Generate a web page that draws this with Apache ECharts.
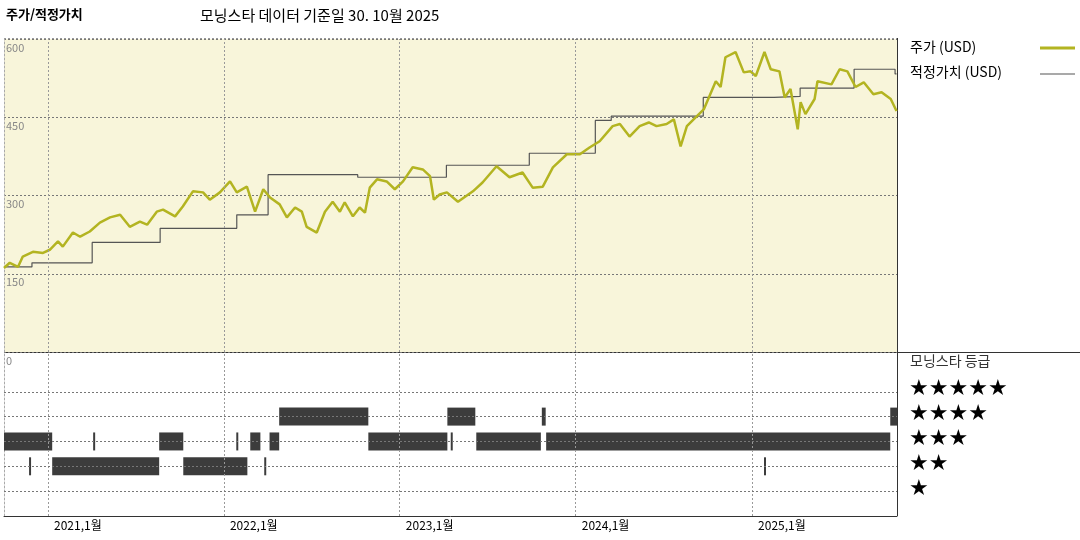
<!DOCTYPE html>
<html><head><meta charset="utf-8">
<script src="https://cdn.jsdelivr.net/npm/echarts@6/dist/echarts.min.js"></script>
<style>html,body{margin:0;padding:0;background:#fff}#c{width:1080px;height:540px}</style>
</head><body><div id="c"></div>
<script>
const priceDates = ['2020-10-02','2020-10-14','2020-10-31','2020-11-10','2020-12-01','2020-12-22','2021-01-05','2021-01-22','2021-02-01','2021-02-22','2021-03-09','2021-03-29','2021-04-19','2021-05-10','2021-05-31','2021-06-20','2021-07-11','2021-07-26','2021-08-15','2021-08-28','2021-09-22','2021-10-08','2021-10-29','2021-11-19','2021-12-03','2021-12-24','2022-01-14','2022-01-28','2022-02-18','2022-03-07','2022-03-24','2022-04-07','2022-04-27','2022-05-12','2022-05-29','2022-06-12','2022-06-22','2022-07-13','2022-07-30','2022-08-15','2022-08-30','2022-09-09','2022-09-26','2022-10-10','2022-10-21','2022-10-31','2022-11-15','2022-12-05','2022-12-22','2023-01-08','2023-01-28','2023-02-18','2023-03-05','2023-03-13','2023-03-25','2023-04-09','2023-05-02','2023-06-02','2023-06-22','2023-07-21','2023-08-17','2023-09-13','2023-10-04','2023-10-25','2023-11-15','2023-12-14','2024-01-10','2024-01-30','2024-02-20','2024-03-18','2024-04-02','2024-04-22','2024-05-13','2024-06-01','2024-06-17','2024-07-08','2024-07-23','2024-08-06','2024-08-19','2024-09-02','2024-09-23','2024-10-18','2024-10-28','2024-11-07','2024-11-28','2024-12-15','2024-12-29','2025-01-09','2025-01-27','2025-02-09','2025-02-27','2025-03-10','2025-03-22','2025-04-06','2025-04-12','2025-04-22','2025-05-11','2025-05-17','2025-06-15','2025-07-02','2025-07-18','2025-08-04','2025-08-21','2025-09-10','2025-09-27','2025-10-16','2025-10-28'];
const priceValues = [161,171,163,183,192,190,196,212,202,229,221,231,248,258,263,240,250,244,269,273,260,279,308,306,292,306,327,306,317,269,312,296,283,258,277,269,240,229,269,288,269,287,260,277,267,315,331,327,312,327,354,350,337,292,302,306,288,308,325,356,335,344,315,317,354,379,379,392,404,433,437,413,433,440,433,437,446,394,433,446,465,519,508,565,575,536,538,529,575,542,538,488,504,427,479,456,485,519,513,542,538,508,517,494,498,485,462];
const fairDates = ['2020-10-02','2020-11-29','2021-04-03','2021-08-22','2022-01-28','2022-04-03','2022-10-06','2023-04-08','2023-09-27','2024-02-11','2024-03-15','2024-09-22','2025-02-16','2025-04-11','2025-08-01','2025-10-25','2025-10-28'];
const fairValues = [163,171,210,237,263,340,335,358,381,444,452,488,490,506,542,533,533];
const ratingStarts = ['2020-10-02','2021-04-05','2021-08-20','2022-01-27','2022-02-25','2022-04-06','2022-10-28','2023-04-17','2023-06-09','2023-11-01','2020-11-23','2021-01-10','2021-10-09','2022-03-26','2025-01-26','2022-04-26','2023-04-10','2023-10-23','2025-10-15'];
const ratingEnds   = ['2021-01-10','2021-04-09','2021-10-09','2022-01-31','2022-03-18','2022-04-26','2023-04-10','2023-04-21','2023-10-21','2025-10-15','2020-11-27','2021-08-20','2022-02-19','2022-03-30','2025-01-30','2022-10-28','2023-06-07','2023-10-31','2025-10-29'];
const ratingLevels = [3,3,3,3,3,3,3,3,3,3,2,2,2,2,2,4,4,4,4];
const yearTicks = ['2021-01-01','2022-01-01','2023-01-01','2024-01-01','2025-01-01'];
const yearLabels = ['2021,1월','2022,1월','2023,1월','2024,1월','2025,1월'];
const startTick = '2020-10-02';
const startLabel = '2020,10월';
const priceTicks = [0,150,300,450,600];
const starLabels = ['★★★★★','★★★★','★★★','★★','★'];

const FONT = '"Noto Sans CJK KR", sans-serif';
const X0 = '2020-10-02', X1 = '2025-10-29';
const chart = echarts.init(document.getElementById('c'));
const lbl = (text, w) => ({show: true, position: 'start', distance: 3, color: '#000', fontFamily: FONT, fontSize: 12, formatter: text, offset: [w, 0]});
const ratingData = ratingStarts.map((s, i) => [s, ratingEnds[i], ratingLevels[i]]);

chart.setOption({
  animation: false,
  backgroundColor: '#fff',
  textStyle: {fontFamily: FONT},
  grid: [
    {left: 4, width: 893, top: 39, height: 313, show: true, backgroundColor: '#f8f5da', borderWidth: 0},
    {left: 4, width: 893, top: 352, height: 164, show: false}
  ],
  xAxis: [
    {type: 'time', gridIndex: 0, min: X0, max: X1, axisLabel: {show: false}, axisTick: {show: false}, axisLine: {show: false}, splitLine: {show: false}},
    {type: 'time', gridIndex: 1, min: X0, max: X1, axisLabel: {show: false}, axisTick: {show: false}, axisLine: {show: true, lineStyle: {color: '#333'}}, splitLine: {show: false}}
  ],
  yAxis: [
    {type: 'value', gridIndex: 0, min: 0, max: 600, interval: 150,
     axisLine: {show: true, lineStyle: {color: '#aaa', type: [2,2]}}, axisTick: {show: false},
     axisLabel: {inside: true, verticalAlign: 'top', color: '#888', fontSize: 11, margin: 2, padding: [3,0,0,0], showMaxLabel: true,
       formatter: v => priceTicks.includes(v) ? String(v) : ''},
     splitLine: {show: true, lineStyle: {color: '#777', type: [2,2]}}},
    {type: 'value', gridIndex: 1, min: 0, max: 6.6, axisLabel: {show: false}, axisTick: {show: false},
     axisLine: {show: true, lineStyle: {color: '#aaa', type: [2,2]}}, splitLine: {show: false}}
  ],
  series: [
    {type: 'line', name: '적정가치 (USD)', xAxisIndex: 0, yAxisIndex: 0, step: 'end', symbol: 'none',
     lineStyle: {color: '#555', width: 1.2}, data: fairDates.map((d, i) => [d, fairValues[i]]),
     markLine: {silent: true, symbol: 'none', label: {show: false}, lineStyle: {color: '#999', type: [2,2], width: 1},
       data: yearTicks.map(d => ({xAxis: d}))}},
    {type: 'line', name: '주가 (USD)', xAxisIndex: 0, yAxisIndex: 0, symbol: 'none',
     lineStyle: {color: '#b3b421', width: 2.5}, data: priceDates.map((d, i) => [d, priceValues[i]])},
    {type: 'custom', xAxisIndex: 1, yAxisIndex: 1, data: ratingData,
     encode: {x: [0, 1], y: 2},
     renderItem: (params, api) => {
       const a = api.coord([api.value(0), api.value(2)]);
       const b = api.coord([api.value(1), api.value(2)]);
       return {type: 'rect', shape: {x: a[0], y: a[1] - 9, width: Math.max(2, b[0] - a[0]), height: 18},
               style: {fill: '#3c3c3c'}};
     },
     markLine: {silent: true, symbol: 'none', lineStyle: {color: '#999', type: [2,2], width: 1},
       data: yearTicks.map((d, i) => ({xAxis: d, label: lbl(yearLabels[i], 30)}))}},
    {type: 'line', xAxisIndex: 1, yAxisIndex: 1, data: [[startTick, 0]], symbol: 'none', lineStyle: {opacity: 0},
     markLine: {silent: true, symbol: 'none', lineStyle: {opacity: 0},
       data: [{xAxis: startTick, label: lbl(startLabel, 32)}]}},
    {type: 'line', xAxisIndex: 1, yAxisIndex: 1, data: [], symbol: 'none',
     markLine: {silent: true, symbol: 'none', label: {show: false}, lineStyle: {color: '#777', type: [2,2], width: 1},
       data: [1,2,3,4,5].map(v => ({yAxis: v}))}}
  ],
  graphic: [
    {type: 'text', left: 6, top: 8, style: {text: '주가/적정가치', font: 'bold 13px ' + FONT, fill: '#000'}},
    {type: 'text', left: 200, top: 8, style: {text: '모닝스타 데이터 기준일 30. 10월 2025', font: '15px ' + FONT, fill: '#000'}},
    {type: 'line', shape: {x1: 4, y1: 38.5, x2: 897, y2: 38.5}, style: {stroke: '#999', lineDash: [2,2]}},
    {type: 'line', shape: {x1: 897.5, y1: 38, x2: 897.5, y2: 516}, style: {stroke: '#333', lineWidth: 1}},
    {type: 'line', shape: {x1: 4, y1: 352.5, x2: 1080, y2: 352.5}, style: {stroke: '#333', lineWidth: 1}},
    {type: 'text', left: 910, top: 40, style: {text: '주가 (USD)', font: '14px ' + FONT, fill: '#000'}},
    {type: 'line', shape: {x1: 1040, y1: 48, x2: 1075, y2: 48}, style: {stroke: '#b3b421', lineWidth: 3}},
    {type: 'text', left: 910, top: 65, style: {text: '적정가치 (USD)', font: '14px ' + FONT, fill: '#000'}},
    {type: 'line', shape: {x1: 1040, y1: 74, x2: 1075, y2: 74}, style: {stroke: '#555', lineWidth: 1.2}},
    {type: 'text', left: 910, top: 354, style: {text: '모닝스타 등급', font: '14px ' + FONT, fill: '#333'}},
  ].concat(starLabels.map((s, i) => ({type: 'text', left: 909, top: 378 + i * 25, style: {text: s, font: '22px "DejaVu Sans", sans-serif', fill: '#000'}})))
});
</script></body></html>
